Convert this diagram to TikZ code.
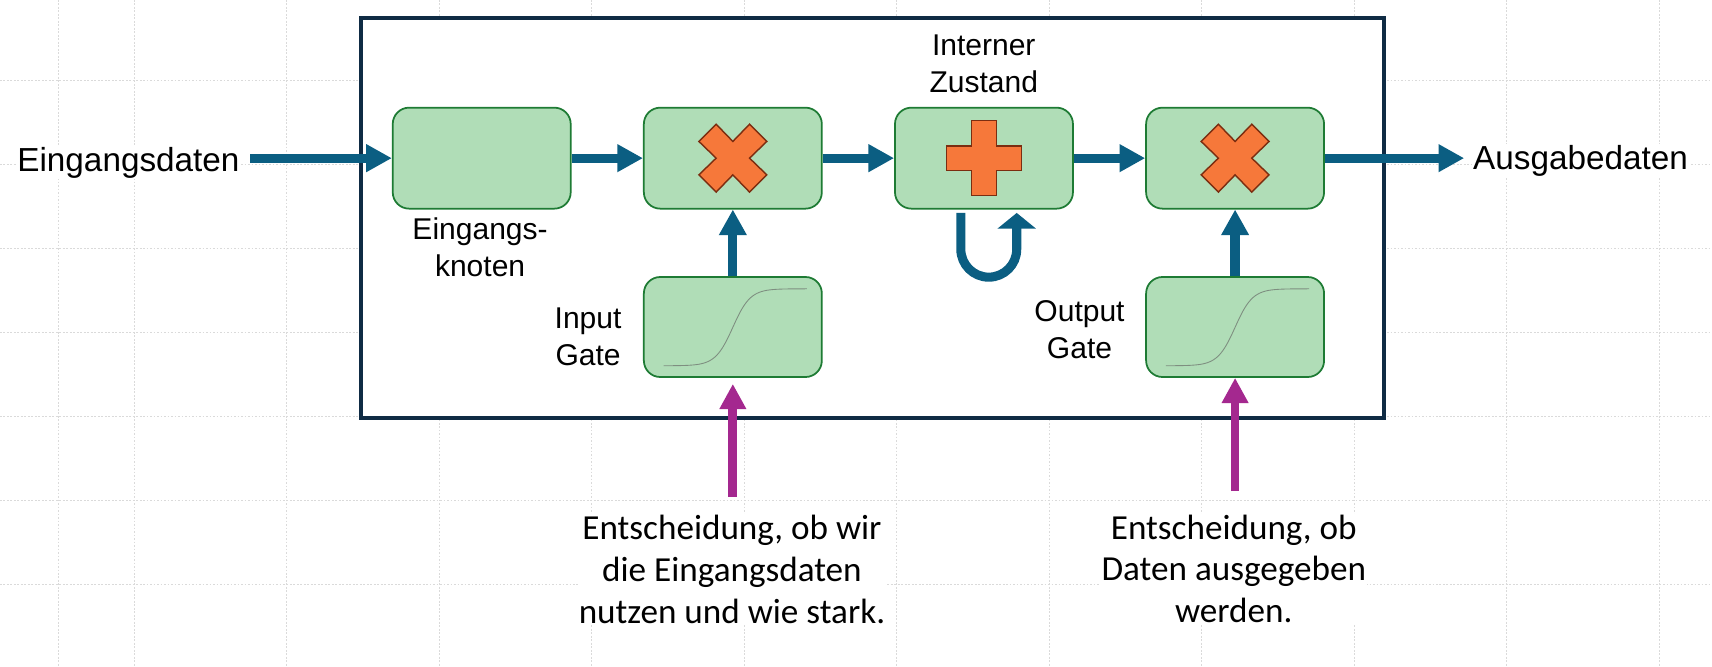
\documentclass[tikz,border=0pt]{standalone}
\usepackage{fontspec}
\setmainfont{Liberation Sans}
\newfontfamily\calib{Carlito}
\usetikzlibrary{arrows.meta}
\definecolor{navy}{HTML}{0F2B44}
\definecolor{arrowblue}{HTML}{0B5E82}
\definecolor{boxfill}{HTML}{B0DDB7}
\definecolor{boxline}{HTML}{1E7B34}
\definecolor{opfill}{HTML}{F6783A}
\definecolor{opline}{HTML}{7B2D10}
\definecolor{purp}{HTML}{A4288F}
\definecolor{gridc}{HTML}{DADADA}
\definecolor{sigc}{HTML}{7E8E80}
\begin{document}
\begin{tikzpicture}[x=1pt,y=-1pt,
  cell/.style={draw=boxline, fill=boxfill, line width=1.6pt, rounded corners=15pt,
    minimum width=163pt, minimum height=92.5pt, inner sep=0pt},
  flow/.style={draw=arrowblue, line width=8.5pt, -{Triangle[length=23.5pt,width=24pt]}},
  gatein/.style={draw=purp, line width=8pt, -{Triangle[length=23pt,width=23pt]}},
  lbl/.style={font=\fontsize{27.5}{33.8}\selectfont, align=center, inner sep=0pt},
  note/.style={font=\calib\fontsize{32.2}{38.3}\selectfont, align=center, inner sep=1pt, fill=white},
  big/.style={font=\fontsize{30.5}{36}\selectfont, inner sep=1pt, fill=white},
  opshape/.style={draw=opline, fill=opfill, line width=1.3pt, line join=miter},
  sig/.style={draw=sigc, line width=0.8pt},
  gridline/.style={draw=gridc, line width=0.8pt, dash pattern=on 1.6pt off 1.6pt},
]
\useasboundingbox[fill=white] (0,0) rectangle (1568,610);
% background grid
\foreach \gx in {53.1,122.7,262.4,402.1,541.8,681.5,821.2,960.9,1100.6,1240.3,1380,1519.7}
  \draw[gridline] (\gx,0) -- (\gx,610);
\foreach \gy in {73.9,150.8,227.7,304.6,381.5,458.4,535.3}
  \draw[gridline] (0,\gy) -- (1568,\gy);
% frame
\draw[navy, line width=3.7pt, fill=white] (331,16.3) rectangle (1267.7,383);
% cells
\node[cell] (b1) at (441.2,144.85) {};
\node[cell] (b2) at (671.2,144.85) {};
\node[cell] (b3) at (901.2,144.85) {};
\node[cell] (b4) at (1131.2,144.85) {};
\node[cell, minimum height=91.6pt] (g1) at (671.2,299.5) {};
\node[cell, minimum height=91.6pt] (g2) at (1131.2,299.5) {};
% operators
\draw[opshape, shift={(b2.center)}] (-31.1,-15.3) -- (-15.3,-31.1) -- (0,-15.3) -- (15.3,-31.1) -- (31.1,-15.3) -- (15.3,0) -- (31.1,15.3) -- (15.3,31.1) -- (0,15.3) -- (-15.3,31.1) -- (-31.1,15.3) -- (-15.3,0) -- cycle;
\draw[opshape, shift={(b4.center)}] (-31.1,-15.3) -- (-15.3,-31.1) -- (0,-15.3) -- (15.3,-31.1) -- (31.1,-15.3) -- (15.3,0) -- (31.1,15.3) -- (15.3,31.1) -- (0,15.3) -- (-15.3,31.1) -- (-31.1,15.3) -- (-15.3,0) -- cycle;
\draw[opshape, shift={(b3.center)}] (-11.3,-34.3) -- (11.3,-34.3) -- (11.3,-11.3) -- (34.3,-11.3) -- (34.3,11.3) -- (11.3,11.3) -- (11.3,34.3) -- (-11.3,34.3) -- (-11.3,11.3) -- (-34.3,11.3) -- (-34.3,-11.3) -- (-11.3,-11.3) -- cycle;
% sigmoids
\draw[sig, shift={(g1.center)}] plot[domain=-63.5:67.7, samples=90, smooth] (\x, {35.5 - 70.5/(1+exp(-\x/8))});
\draw[sig, shift={(g2.center)}] plot[domain=-63.5:67.7, samples=90, smooth] (\x, {35.5 - 70.5/(1+exp(-\x/8))});
% texts
\node[big, anchor=base west] (inT) at (14.7,157) {Eingangsdaten};
\node[big, anchor=base west] (outT) at (1348,155) {Ausgabedaten};
\node[lbl, anchor=base] (zust) at (901,84.3) {Interner\\Zustand};
\node[lbl, anchor=base] (eknot) at (439.7,252.8) {Eingangs-\\knoten};
\node[lbl, anchor=base] (igate) at (538.6,334.5) {Input\\Gate};
\node[lbl, anchor=base] (ogate) at (988.7,328) {Output\\Gate};
\node[note, anchor=base] (n1) at (670.4,570.9) {Entscheidung, ob wir\\die Eingangsdaten\\nutzen und wie stark.};
\node[note, anchor=base] (n2) at (1130,570.3) {Entscheidung, ob\\Daten ausgegeben\\werden.};
% flow arrows
\coordinate (inS) at (229,144.85);
\coordinate (outE) at (1341,144.85);
\draw[flow] (inS) -- (b1.west);
\draw[flow] (b1.east) -- (b2.west);
\draw[flow] (b2.east) -- (b3.west);
\draw[flow] (b3.east) -- (b4.west);
\draw[flow] (b4.east) -- (outE);
\draw[flow] (g1.north) -- (b2.south);
\draw[flow] (g2.north) -- (b4.south);
% recurrent loop
\coordinate (l1) at (880,195);
\coordinate (l2) at (931.2,195);
\draw[arrowblue, line width=8.3pt, -{Triangle[length=14.4pt,width=34.5pt]}] (l1) -- ++(0,33.25) arc[start angle=180, end angle=0, radius=25.6] -- (l2);
% gate inputs
\coordinate (p1) at (671.2,455);
\coordinate (p2) at (1131.2,449.7);
\draw[gatein] (p1) -- ([yshift=-5.5pt]g1.south);
\draw[gatein] (p2) -- (g2.south);
\end{tikzpicture}
\end{document}
